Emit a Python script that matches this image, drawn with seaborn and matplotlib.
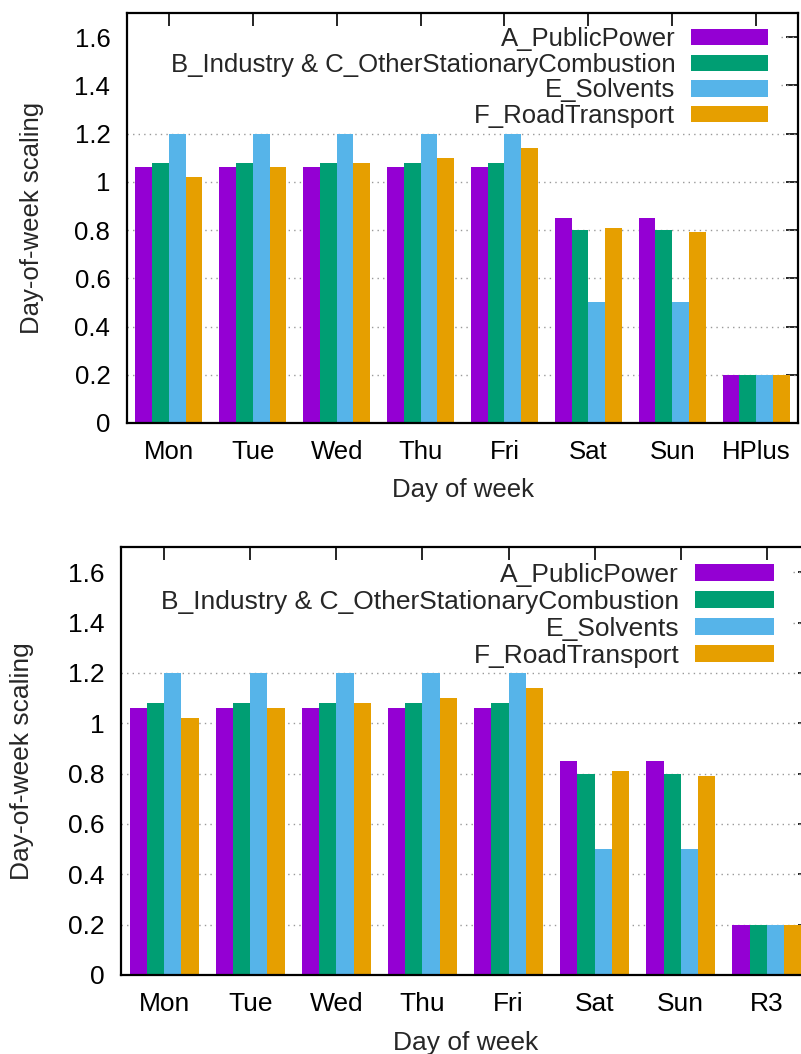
import matplotlib
matplotlib.use("Agg")
import matplotlib.pyplot as plt
import seaborn as sns
import pandas as pd
from matplotlib.ticker import FuncFormatter

sns.set_style("white")
plt.rcParams['font.family'] = ['Liberation Sans', 'DejaVu Sans']

# --- data ---
days_top = ['Mon', 'Tue', 'Wed', 'Thu', 'Fri', 'Sat', 'Sun', 'HPlus']
days_bottom = ['Mon', 'Tue', 'Wed', 'Thu', 'Fri', 'Sat', 'Sun', 'R3']
sectors = ['A_PublicPower', 'B_Industry & C_OtherStationaryCombustion',
           'E_Solvents', 'F_RoadTransport']
public_power = [1.06, 1.06, 1.06, 1.06, 1.06, 0.85, 0.85, 0.2]
industry = [1.08, 1.08, 1.08, 1.08, 1.08, 0.80, 0.80, 0.2]
solvents = [1.2, 1.2, 1.2, 1.2, 1.2, 0.5, 0.5, 0.2]
road_transport = [1.02, 1.06, 1.08, 1.10, 1.14, 0.81, 0.79, 0.2]
yticks = [0, 0.2, 0.4, 0.6, 0.8, 1.0, 1.2, 1.4, 1.6]

colors = ['#9400D3', '#009E73', '#56B4E9', '#E69F00']


def make_df(days):
    rows = []
    for sector, vals in zip(sectors, [public_power, industry, solvents, road_transport]):
        for d, v in zip(days, vals):
            rows.append({'day': d, 'sector': sector, 'scaling': v})
    return pd.DataFrame(rows)


def draw(ax, days, fs, leg_anchor, ypad, xpad, lspace):
    df = make_df(days)
    sns.barplot(data=df, x='day', y='scaling', hue='sector', order=days,
                hue_order=sectors, palette=colors, width=0.8, saturation=1,
                linewidth=0, errorbar=None, ax=ax, zorder=2)
    ax.set_xlim(-0.5, 7.5)
    ax.set_ylim(0, 1.7)
    ax.set_yticks(yticks)
    ax.yaxis.set_major_formatter(FuncFormatter(lambda v, p: '%g' % v))
    # dotted grid, hidden behind the key for the upper ticks
    for t in yticks[1:]:
        if t <= 1.2:
            ax.axhline(t, color='#999999', lw=1.0, ls=(0, (1, 3)), zorder=1)
        else:
            ax.axhline(t, xmin=0.975, xmax=1, color='#999999', lw=1.0,
                       ls=(0, (1, 3)), zorder=1)
    ax.tick_params(direction='in', length=9, width=1.2, top=True, right=True,
                   labelsize=fs, pad=12, colors='black')
    for s in ax.spines.values():
        s.set_linewidth(1.6)
        s.set_color('black')
    ax.set_xlabel('Day of week', fontsize=fs, labelpad=xpad)
    ax.set_ylabel('Day-of-week scaling', fontsize=fs, labelpad=ypad)
    handles, labels = ax.get_legend_handles_labels()
    ax.legend(handles, labels, loc='upper right', bbox_to_anchor=leg_anchor,
              markerfirst=False, frameon=False, handlelength=3.0,
              handleheight=0.6, handletextpad=0.6, labelspacing=lspace,
              fontsize=fs, borderpad=0, borderaxespad=0)


fig = plt.figure(figsize=(8.01, 10.54), dpi=100)
ax1 = fig.add_axes([127 / 801, 1 - 423 / 1054, 671 / 801, 410 / 1054])
ax2 = fig.add_axes([121 / 801, 1 - 975 / 1054, 689 / 801, 428 / 1054])

draw(ax1, days_top, 18.5, (0.955, 0.965), 22, 10, 0.06)
draw(ax2, days_bottom, 19, (0.948, 0.963), 24, 11, 0.11)

fig.savefig('out.png', dpi=100)
